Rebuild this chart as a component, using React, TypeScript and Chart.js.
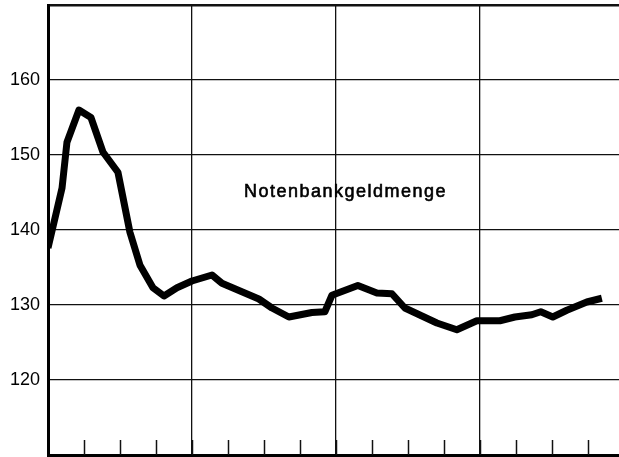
import { useEffect, useRef } from 'react';
import { Chart, registerables } from 'chart.js';

Chart.register(...registerables);

// x positions in months from the start of the period
const monthPos = [0, 1.17, 1.58, 2.58, 3.58, 4.58, 5.83, 6.83, 7.67, 8.75, 9.67, 10.75, 12, 13.67, 14.5, 17.58, 18.67, 20.08, 22, 23.08, 23.67, 25.83, 27.42, 28.67, 29.75, 32.42, 34.08, 35.75, 37.67, 38.92, 40.33, 41.08, 42.08, 43.25, 44.92, 46.17];
// Notenbankgeldmenge index values
const moneyBase = [137.6, 145.6, 151.7, 156.0, 155.0, 150.4, 147.7, 139.7, 135.3, 132.3, 131.2, 132.3, 133.2, 134.0, 132.9, 130.8, 129.6, 128.4, 129.0, 129.1, 131.3, 132.6, 131.6, 131.5, 129.6, 127.6, 126.7, 127.9, 127.9, 128.4, 128.7, 129.1, 128.4, 129.3, 130.4, 130.9];
const yTickLabels = [120, 130, 140, 150, 160];
const seriesLabel = 'Notenbankgeldmenge';
const labelPos = { x: 24.8, y: 145.1 };

const FONT = '"Liberation Sans", Arial, Helvetica, sans-serif';

const innerTicks = {
  id: 'innerTicks',
  afterDatasetsDraw(chart: any) {
    const { ctx, chartArea, scales } = chart;
    const xs = scales.x;
    ctx.save();
    ctx.strokeStyle = '#111';
    ctx.lineWidth = 1.5;
    xs.ticks.forEach((t: any) => {
      const px = Math.round(xs.getPixelForValue(t.value)) + 0.5;
      if (px <= chartArea.left + 2 || px >= chartArea.right) return;
      ctx.beginPath();
      ctx.moveTo(px, chartArea.bottom);
      ctx.lineTo(px, chartArea.bottom - 15);
      ctx.stroke();
    });
    // series label
    const lx = xs.getPixelForValue(labelPos.x);
    const ly = scales.y.getPixelForValue(labelPos.y);
    ctx.fillStyle = '#000';
    ctx.strokeStyle = '#000';
    ctx.lineWidth = 0.6;
    ctx.font = `18px ${FONT}`;
    (ctx as any).letterSpacing = '1.5px';
    ctx.textAlign = 'center';
    ctx.textBaseline = 'middle';
    ctx.fillText(seriesLabel, lx, ly);
    ctx.strokeText(seriesLabel, lx, ly);
    ctx.restore();
  },
};

export default function App() {
  const ref = useRef<HTMLCanvasElement | null>(null);
  useEffect(() => {
    document.body.style.margin = '0';
    const canvas = ref.current;
    if (!canvas) return;
    const chart = new Chart(canvas, {
      type: 'line',
      data: {
        datasets: [
          {
            label: seriesLabel,
            data: monthPos.map((m, i) => ({ x: m, y: moneyBase[i] })),
            borderColor: '#000',
            borderWidth: 7,
            pointRadius: 0,
            tension: 0,
            borderJoinStyle: 'round',
            borderCapStyle: 'butt',
            fill: false,
          },
        ],
      },
      options: {
        animation: false,
        responsive: false,
        maintainAspectRatio: false,
        events: [],
        layout: { padding: { top: 5, right: 0, bottom: 2, left: 0 } },
        plugins: { legend: { display: false }, tooltip: { enabled: false } },
        scales: {
          x: {
            type: 'linear',
            min: 0,
            max: 47.6,
            afterFit: (s: any) => {
              s.height = 0;
              s.paddingLeft = 0;
              s.paddingRight = 0;
            },
            ticks: { display: false, stepSize: 3, includeBounds: false },
            grid: {
              drawTicks: false,
              color: (c: any) => (c.tick && c.tick.value % 12 === 0 && c.tick.value > 0 ? '#111' : 'rgba(0,0,0,0)'),
              lineWidth: 1.3,
            },
            border: { display: true, color: '#000', width: 3 },
          },
          y: {
            min: 110,
            max: 170,
            afterFit: (s: any) => {
              s.width = 48;
              s.paddingTop = 0;
              s.paddingBottom = 0;
            },
            ticks: {
              stepSize: 10,
              padding: 8,
              color: '#000',
              font: { family: FONT, size: 18 },
              callback: (v: any) => (yTickLabels.includes(Number(v)) ? String(v) : ''),
            },
            grid: {
              drawTicks: false,
              color: '#111',
              lineWidth: (c: any) => (c.tick && c.tick.value === 170 ? 2.5 : 1.3),
            },
            border: { display: true, color: '#000', width: 3 },
          },
        },
      },
      plugins: [innerTicks],
    });
    return () => chart.destroy();
  }, []);
  return (
    <div style={{ position: 'absolute', left: 0, top: 0, width: 619, height: 457, background: '#fff' }}>
      <canvas ref={ref} width={619} height={457} style={{ width: 619, height: 457, display: 'block' }} />
    </div>
  );
}
